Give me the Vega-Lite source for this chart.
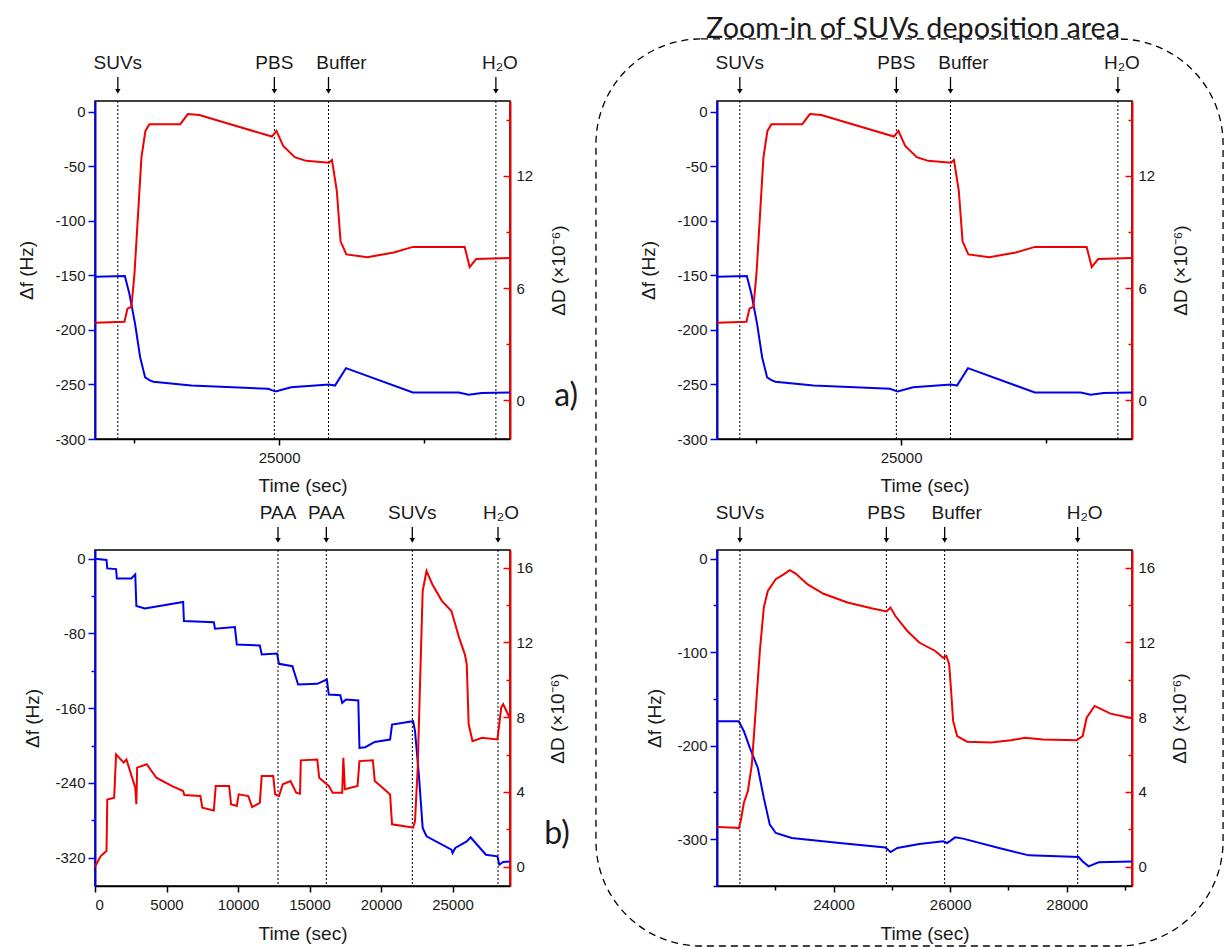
{
  "$schema": "https://vega.github.io/schema/vega-lite/v6.json",
  "padding": {"left": 16, "top": 14, "right": 0, "bottom": 0},
  "concat": [
    {"width": 1, "height": 1, "data": {"values": [{}]}, "mark": {"type": "point", "opacity": 0}, "view": {"stroke": null}},
    {
      "width": 415, "height": 338,
      "layer": [
        {"layer": [
          {"data": {"name": "top_f"}, "mark": {"type": "line", "color": "#0000f0", "strokeWidth": 2},
           "encoding": {
             "x": {"field": "t", "type": "quantitative", "scale": {"domain": [21830, 28975], "nice": false, "zero": false},
                   "axis": {"values": [22500, 25000, 27500], "labelExpr": "datum.value === 25000 ? '25000' : ''", "tickSize": {"condition": {"test": "datum.value === 25000", "value": 6}, "value": 4}, "domainColor": "black", "domainWidth": 1.5, "tickColor": "black", "tickWidth": 1.5, "labelPadding": 5, "labelFontSize": 15, "title": "Time (sec)", "titleFontSize": 19, "titleY": 46, "titleBaseline": "middle"}},
             "y": {"field": "df", "type": "quantitative", "scale": {"domain": [-300, 10], "nice": false, "zero": false},
                   "axis": {"orient": "left", "values": [-300, -275, -250, -225, -200, -175, -150, -125, -100, -75, -50, -25, 0], "labelExpr": "datum.value % 50 === 0 ? '' + datum.value : ''", "tickSize": {"condition": {"test": "datum.value % 50 === 0", "value": 7}, "value": 4}, "domainColor": "#0000f0", "domainWidth": 2, "tickColor": "#0000f0", "tickWidth": 1.5, "labelPadding": 3, "labelFontSize": 15, "title": "Δf (Hz)", "titleFontSize": 19, "titleX": -69, "titleBaseline": "middle"}}
           }},
          {"data": {"name": "ev_top"}, "mark": {"type": "rule", "strokeDash": [2, 2], "color": "black", "strokeWidth": 1}, "encoding": {"x": {"field": "t", "type": "quantitative"}}},
          {"data": {"name": "ev_top"}, "mark": {"type": "rule", "color": "black", "strokeWidth": 1.3}, "encoding": {"x": {"field": "t", "type": "quantitative"}, "y": {"datum": 32, "type": "quantitative"}, "y2": {"datum": 19.2}}},
          {"data": {"name": "ev_top"}, "mark": {"type": "point", "shape": "triangle-down", "filled": true, "color": "black", "size": 30, "opacity": 1}, "encoding": {"x": {"field": "t", "type": "quantitative"}, "y": {"datum": 18.8, "type": "quantitative"}}},
          {"data": {"name": "ev_top"}, "transform": [{"filter": "datum.lbl !== 'Buffer' && datum.lbl !== 'H₂O'"}], "mark": {"type": "text", "fontSize": 19, "baseline": "middle", "color": "#1a1a1a"}, "encoding": {"x": {"field": "t", "type": "quantitative"}, "y": {"datum": 44.9, "type": "quantitative"}, "text": {"field": "lbl"}}},
          {"data": {"name": "ev_top"}, "transform": [{"filter": "datum.lbl === 'Buffer'"}], "mark": {"type": "text", "fontSize": 19, "baseline": "middle", "dx": 13, "color": "#1a1a1a"}, "encoding": {"x": {"field": "t", "type": "quantitative"}, "y": {"datum": 44.9, "type": "quantitative"}, "text": {"field": "lbl"}}},
          {"data": {"name": "ev_top"}, "transform": [{"filter": "datum.lbl === 'H₂O'"}], "mark": {"type": "text", "fontSize": 19, "baseline": "middle", "dx": 4, "color": "#1a1a1a"}, "encoding": {"x": {"field": "t", "type": "quantitative"}, "y": {"datum": 44.9, "type": "quantitative"}, "text": {"field": "lbl"}}},
          {"data": {"values": [{}]}, "mark": {"type": "text", "fontSize": 32, "font": "Lato", "baseline": "middle", "color": "#1a1a1a"}, "encoding": {"x": {"datum": 29941, "type": "quantitative"}, "y": {"datum": -260.6, "type": "quantitative"}, "text": {"value": "a)"}}}
        ]},
        {"data": {"name": "top_D"}, "mark": {"type": "line", "color": "#f00000", "strokeWidth": 2},
         "encoding": {
           "x": {"field": "t", "type": "quantitative"},
           "y": {"field": "dD", "type": "quantitative", "scale": {"domain": [-2.07, 16.0], "nice": false, "zero": false},
                 "axis": {"orient": "right", "values": [0, 3, 6, 9, 12, 15], "labelExpr": "datum.value % 6 === 0 ? '' + datum.value : ''", "tickSize": {"condition": {"test": "datum.value % 6 === 0", "value": -7}, "value": -4}, "domainColor": "#f00000", "domainWidth": 2, "tickColor": "#f00000", "tickWidth": 1.5, "labelPadding": 13, "labelFontSize": 15, "title": "ΔD (×10⁻⁶)", "titleFontSize": 19, "titleAngle": 270, "titleX": 48, "titleBaseline": "middle"}}
         }}
      ],
      "resolve": {"scale": {"y": "independent"}}
    },
    {"width": 207, "height": 1, "data": {"values": [{}]}, "mark": {"type": "point", "opacity": 0}, "view": {"stroke": null}},
    {
      "width": 415, "height": 338,
      "layer": [
        {"layer": [
          {"data": {"name": "top_f"}, "mark": {"type": "line", "color": "#0000f0", "strokeWidth": 2},
           "encoding": {
             "x": {"field": "t", "type": "quantitative", "scale": {"domain": [21830, 28975], "nice": false, "zero": false},
                   "axis": {"values": [22500, 25000, 27500], "labelExpr": "datum.value === 25000 ? '25000' : ''", "tickSize": {"condition": {"test": "datum.value === 25000", "value": 6}, "value": 4}, "domainColor": "black", "domainWidth": 1.5, "tickColor": "black", "tickWidth": 1.5, "labelPadding": 5, "labelFontSize": 15, "title": "Time (sec)", "titleFontSize": 19, "titleY": 46, "titleBaseline": "middle"}},
             "y": {"field": "df", "type": "quantitative", "scale": {"domain": [-300, 10], "nice": false, "zero": false},
                   "axis": {"orient": "left", "values": [-300, -275, -250, -225, -200, -175, -150, -125, -100, -75, -50, -25, 0], "labelExpr": "datum.value % 50 === 0 ? '' + datum.value : ''", "tickSize": {"condition": {"test": "datum.value % 50 === 0", "value": 7}, "value": 4}, "domainColor": "#0000f0", "domainWidth": 2, "tickColor": "#0000f0", "tickWidth": 1.5, "labelPadding": 3, "labelFontSize": 15, "title": "Δf (Hz)", "titleFontSize": 19, "titleX": -69, "titleBaseline": "middle"}}
           }},
          {"data": {"name": "ev_top"}, "mark": {"type": "rule", "strokeDash": [2, 2], "color": "black", "strokeWidth": 1}, "encoding": {"x": {"field": "t", "type": "quantitative"}}},
          {"data": {"name": "ev_top"}, "mark": {"type": "rule", "color": "black", "strokeWidth": 1.3}, "encoding": {"x": {"field": "t", "type": "quantitative"}, "y": {"datum": 32, "type": "quantitative"}, "y2": {"datum": 19.2}}},
          {"data": {"name": "ev_top"}, "mark": {"type": "point", "shape": "triangle-down", "filled": true, "color": "black", "size": 30, "opacity": 1}, "encoding": {"x": {"field": "t", "type": "quantitative"}, "y": {"datum": 18.8, "type": "quantitative"}}},
          {"data": {"name": "ev_top"}, "transform": [{"filter": "datum.lbl !== 'Buffer' && datum.lbl !== 'H₂O'"}], "mark": {"type": "text", "fontSize": 19, "baseline": "middle", "color": "#1a1a1a"}, "encoding": {"x": {"field": "t", "type": "quantitative"}, "y": {"datum": 44.9, "type": "quantitative"}, "text": {"field": "lbl"}}},
          {"data": {"name": "ev_top"}, "transform": [{"filter": "datum.lbl === 'Buffer'"}], "mark": {"type": "text", "fontSize": 19, "baseline": "middle", "dx": 13, "color": "#1a1a1a"}, "encoding": {"x": {"field": "t", "type": "quantitative"}, "y": {"datum": 44.9, "type": "quantitative"}, "text": {"field": "lbl"}}},
          {"data": {"name": "ev_top"}, "transform": [{"filter": "datum.lbl === 'H₂O'"}], "mark": {"type": "text", "fontSize": 19, "baseline": "middle", "dx": 4, "color": "#1a1a1a"}, "encoding": {"x": {"field": "t", "type": "quantitative"}, "y": {"datum": 44.9, "type": "quantitative"}, "text": {"field": "lbl"}}},
          {"data": {"values": [{}]}, "mark": {"type": "text", "fontSize": 28.7, "font": "Lato", "baseline": "alphabetic", "color": "#1a1a1a"}, "encoding": {"x": {"datum": 25205, "type": "quantitative"}, "y": {"datum": 67.8, "type": "quantitative"}, "text": {"value": "Zoom-in of SUVs deposition area"}}},
          {"data": {"values": [{}]}, "mark": {"type": "rect", "fillOpacity": 0, "stroke": "black", "strokeWidth": 1.3, "strokeDash": [7, 5], "cornerRadius": 105}, "encoding": {"x": {"datum": 19746, "type": "quantitative"}, "x2": {"datum": 30543}, "y": {"datum": 66.9, "type": "quantitative"}, "y2": {"datum": -765}}}
        ]},
        {"data": {"name": "top_D"}, "mark": {"type": "line", "color": "#f00000", "strokeWidth": 2},
         "encoding": {
           "x": {"field": "t", "type": "quantitative"},
           "y": {"field": "dD", "type": "quantitative", "scale": {"domain": [-2.07, 16.0], "nice": false, "zero": false},
                 "axis": {"orient": "right", "values": [0, 3, 6, 9, 12, 15], "labelExpr": "datum.value % 6 === 0 ? '' + datum.value : ''", "tickSize": {"condition": {"test": "datum.value % 6 === 0", "value": -7}, "value": -4}, "domainColor": "#f00000", "domainWidth": 2, "tickColor": "#f00000", "tickWidth": 1.5, "labelPadding": 13, "labelFontSize": 15, "title": "ΔD (×10⁻⁶)", "titleFontSize": 19, "titleAngle": 270, "titleX": 48, "titleBaseline": "middle"}}
         }}
      ],
      "resolve": {"scale": {"y": "independent"}}
    },
    {"width": 10, "height": 1, "data": {"values": [{}]}, "mark": {"type": "point", "opacity": 0}, "view": {"stroke": null}},
    {
      "width": 415, "height": 336,
      "layer": [
        {"layer": [
          {"data": {"name": "bl_f"}, "mark": {"type": "line", "color": "#0000f0", "strokeWidth": 2},
           "encoding": {
             "x": {"field": "t", "type": "quantitative", "scale": {"domain": [0, 29020], "nice": false, "zero": false},
                   "axis": {"values": [0, 2500, 5000, 7500, 10000, 12500, 15000, 17500, 20000, 22500, 25000, 27500], "labelExpr": "datum.value % 5000 === 0 ? '' + datum.value : ''", "tickSize": {"condition": {"test": "datum.value % 5000 === 0", "value": 6}, "value": 4}, "domainColor": "black", "domainWidth": 1.5, "tickColor": "black", "tickWidth": 1.5, "labelPadding": 5, "labelFontSize": 15, "title": "Time (sec)", "titleFontSize": 19, "titleY": 47, "titleBaseline": "middle"}},
             "y": {"field": "df", "type": "quantitative", "scale": {"domain": [-350.3, 9.3], "nice": false, "zero": false},
                   "axis": {"orient": "left", "values": [-320, -280, -240, -200, -160, -120, -80, -40, 0], "labelExpr": "datum.value % 80 === 0 ? '' + datum.value : ''", "tickSize": {"condition": {"test": "datum.value % 80 === 0", "value": 7}, "value": 4}, "domainColor": "#0000f0", "domainWidth": 2, "tickColor": "#0000f0", "tickWidth": 1.5, "labelPadding": 3, "labelFontSize": 15, "title": "Δf (Hz)", "titleFontSize": 19, "titleX": -63, "titleBaseline": "middle"}}
           }},
          {"data": {"name": "ev_bl"}, "mark": {"type": "rule", "strokeDash": [2, 2], "color": "black", "strokeWidth": 1}, "encoding": {"x": {"field": "t", "type": "quantitative"}}},
          {"data": {"name": "ev_bl"}, "mark": {"type": "rule", "color": "black", "strokeWidth": 1.3}, "encoding": {"x": {"field": "t", "type": "quantitative"}, "y": {"datum": 33.9, "type": "quantitative"}, "y2": {"datum": 19.9}}},
          {"data": {"name": "ev_bl"}, "mark": {"type": "point", "shape": "triangle-down", "filled": true, "color": "black", "size": 30, "opacity": 1}, "encoding": {"x": {"field": "t", "type": "quantitative"}, "y": {"datum": 19.6, "type": "quantitative"}}},
          {"data": {"name": "ev_bl"}, "transform": [{"filter": "datum.lbl !== 'H₂O'"}], "mark": {"type": "text", "fontSize": 19, "baseline": "middle", "color": "#1a1a1a"}, "encoding": {"x": {"field": "t", "type": "quantitative"}, "y": {"datum": 48.9, "type": "quantitative"}, "text": {"field": "lbl"}}},
          {"data": {"name": "ev_bl"}, "transform": [{"filter": "datum.lbl === 'H₂O'"}], "mark": {"type": "text", "fontSize": 19, "baseline": "middle", "dx": 3, "color": "#1a1a1a"}, "encoding": {"x": {"field": "t", "type": "quantitative"}, "y": {"datum": 48.9, "type": "quantitative"}, "text": {"field": "lbl"}}},
          {"data": {"values": [{}]}, "mark": {"type": "text", "fontSize": 32, "font": "Lato", "baseline": "middle", "color": "#1a1a1a"}, "encoding": {"x": {"datum": 32307, "type": "quantitative"}, "y": {"datum": -294.8, "type": "quantitative"}, "text": {"value": "b)"}}}
        ]},
        {"data": {"name": "bl_D"}, "mark": {"type": "line", "color": "#f00000", "strokeWidth": 2},
         "encoding": {
           "x": {"field": "t", "type": "quantitative"},
           "y": {"field": "dD", "type": "quantitative", "scale": {"domain": [-1.03, 16.94], "nice": false, "zero": false},
                 "axis": {"orient": "right", "values": [0, 2, 4, 6, 8, 10, 12, 14, 16], "labelExpr": "datum.value % 4 === 0 ? '' + datum.value : ''", "tickSize": {"condition": {"test": "datum.value % 4 === 0", "value": -7}, "value": -4}, "domainColor": "#f00000", "domainWidth": 2, "tickColor": "#f00000", "tickWidth": 1.5, "labelPadding": 13, "labelFontSize": 15, "title": "ΔD (×10⁻⁶)", "titleFontSize": 19, "titleAngle": 270, "titleX": 47, "titleBaseline": "middle"}}
         }}
      ],
      "resolve": {"scale": {"y": "independent"}}
    },
    {"width": 198, "height": 1, "data": {"values": [{}]}, "mark": {"type": "point", "opacity": 0}, "view": {"stroke": null}},
    {
      "width": 415, "height": 336,
      "layer": [
        {"layer": [
          {"data": {"name": "br_f"}, "mark": {"type": "line", "color": "#0000f0", "strokeWidth": 2},
           "encoding": {
             "x": {"field": "t", "type": "quantitative", "scale": {"domain": [22000, 29120], "nice": false, "zero": false},
                   "axis": {"values": [23000, 24000, 25000, 26000, 27000, 28000, 29000], "labelExpr": "datum.value % 2000 === 0 ? '' + datum.value : ''", "tickSize": {"condition": {"test": "datum.value % 2000 === 0", "value": 6}, "value": 4}, "domainColor": "black", "domainWidth": 1.5, "tickColor": "black", "tickWidth": 1.5, "labelPadding": 5, "labelFontSize": 15, "title": "Time (sec)", "titleFontSize": 19, "titleY": 47, "titleBaseline": "middle"}},
             "y": {"field": "df", "type": "quantitative", "scale": {"domain": [-350.3, 9.3], "nice": false, "zero": false},
                   "axis": {"orient": "left", "values": [-350, -300, -250, -200, -150, -100, -50, 0], "labelExpr": "datum.value % 100 === 0 ? '' + datum.value : ''", "tickSize": {"condition": {"test": "datum.value % 100 === 0", "value": 7}, "value": 4}, "domainColor": "#0000f0", "domainWidth": 2, "tickColor": "#0000f0", "tickWidth": 1.5, "labelPadding": 3, "labelFontSize": 15, "title": "Δf (Hz)", "titleFontSize": 19, "titleX": -63, "titleBaseline": "middle"}}
           }},
          {"data": {"name": "ev_br"}, "mark": {"type": "rule", "strokeDash": [2, 2], "color": "black", "strokeWidth": 1}, "encoding": {"x": {"field": "t", "type": "quantitative"}}},
          {"data": {"name": "ev_br"}, "mark": {"type": "rule", "color": "black", "strokeWidth": 1.3}, "encoding": {"x": {"field": "t", "type": "quantitative"}, "y": {"datum": 33.9, "type": "quantitative"}, "y2": {"datum": 19.9}}},
          {"data": {"name": "ev_br"}, "mark": {"type": "point", "shape": "triangle-down", "filled": true, "color": "black", "size": 30, "opacity": 1}, "encoding": {"x": {"field": "t", "type": "quantitative"}, "y": {"datum": 19.6, "type": "quantitative"}}},
          {"data": {"name": "ev_br"}, "transform": [{"filter": "datum.lbl !== 'Buffer' && datum.lbl !== 'H₂O'"}], "mark": {"type": "text", "fontSize": 19, "baseline": "middle", "color": "#1a1a1a"}, "encoding": {"x": {"field": "t", "type": "quantitative"}, "y": {"datum": 48.9, "type": "quantitative"}, "text": {"field": "lbl"}}},
          {"data": {"name": "ev_br"}, "transform": [{"filter": "datum.lbl === 'Buffer'"}], "mark": {"type": "text", "fontSize": 19, "baseline": "middle", "dx": 12, "color": "#1a1a1a"}, "encoding": {"x": {"field": "t", "type": "quantitative"}, "y": {"datum": 48.9, "type": "quantitative"}, "text": {"field": "lbl"}}},
          {"data": {"name": "ev_br"}, "transform": [{"filter": "datum.lbl === 'H₂O'"}], "mark": {"type": "text", "fontSize": 19, "baseline": "middle", "dx": 7, "color": "#1a1a1a"}, "encoding": {"x": {"field": "t", "type": "quantitative"}, "y": {"datum": 48.9, "type": "quantitative"}, "text": {"field": "lbl"}}}
        ]},
        {"data": {"name": "br_D"}, "mark": {"type": "line", "color": "#f00000", "strokeWidth": 2},
         "encoding": {
           "x": {"field": "t", "type": "quantitative"},
           "y": {"field": "dD", "type": "quantitative", "scale": {"domain": [-1.03, 16.94], "nice": false, "zero": false},
                 "axis": {"orient": "right", "values": [0, 2, 4, 6, 8, 10, 12, 14, 16], "labelExpr": "datum.value % 4 === 0 ? '' + datum.value : ''", "tickSize": {"condition": {"test": "datum.value % 4 === 0", "value": -7}, "value": -4}, "domainColor": "#f00000", "domainWidth": 2, "tickColor": "#f00000", "tickWidth": 1.5, "labelPadding": 13, "labelFontSize": 15, "title": "ΔD (×10⁻⁶)", "titleFontSize": 19, "titleAngle": 270, "titleX": 47, "titleBaseline": "middle"}}
         }}
      ],
      "resolve": {"scale": {"y": "independent"}}
    }
  ],
  "columns": 4,
  "align": "none",
  "bounds": "flush",
  "spacing": {"row": 111, "column": 0},
  "datasets": {
    "top_f": [{"t":21830,"df":-151.2},{"t":22344,"df":-150.5},{"t":22423,"df":-167},{"t":22521,"df":-194.6},{"t":22607,"df":-225},{"t":22693,"df":-243.5},{"t":22767,"df":-246},{"t":22835,"df":-247.5},{"t":23488,"df":-251},{"t":24811,"df":-254},{"t":24940,"df":-256.5},{"t":25206,"df":-252.5},{"t":25859,"df":-250},{"t":25962,"df":-251},{"t":26151,"df":-235},{"t":27302,"df":-257.3},{"t":28092,"df":-257.3},{"t":28264,"df":-259.5},{"t":28487,"df":-257.9},{"t":28975,"df":-257.3}],
    "top_D": [{"t":21830,"dD":4.15},{"t":22337,"dD":4.2},{"t":22389,"dD":4.9},{"t":22457,"dD":5.0},{"t":22509,"dD":6.74},{"t":22578,"dD":10.3},{"t":22629,"dD":12.97},{"t":22698,"dD":14.4},{"t":22767,"dD":14.76},{"t":23299,"dD":14.76},{"t":23428,"dD":15.3},{"t":23626,"dD":15.25},{"t":24875,"dD":14.1},{"t":24954,"dD":14.4},{"t":25070,"dD":13.6},{"t":25270,"dD":13.0},{"t":25464,"dD":12.8},{"t":25859,"dD":12.7},{"t":25910,"dD":12.85},{"t":25993,"dD":11.2},{"t":26058,"dD":8.5},{"t":26157,"dD":7.8},{"t":26519,"dD":7.65},{"t":26974,"dD":7.9},{"t":27302,"dD":8.2},{"t":28195,"dD":8.2},{"t":28281,"dD":7.12},{"t":28393,"dD":7.55},{"t":28975,"dD":7.6}],
    "bl_f": [{"t":0,"df":0},{"t":804,"df":-1.4},{"t":858,"df":-10.4},{"t":1474,"df":-11.1},{"t":1528,"df":-21.1},{"t":2546,"df":-21.1},{"t":2814,"df":-16.8},{"t":2894,"df":-50.7},{"t":3484,"df":-53.2},{"t":6164,"df":-46.4},{"t":6218,"df":-66.8},{"t":8308,"df":-67.9},{"t":8388,"df":-75},{"t":9782,"df":-73.2},{"t":9916,"df":-91.8},{"t":11524,"df":-92.9},{"t":11658,"df":-102.5},{"t":12730,"df":-101.4},{"t":12864,"df":-112.5},{"t":13802,"df":-115},{"t":14204,"df":-134.6},{"t":15544,"df":-133.9},{"t":16214,"df":-129.3},{"t":16348,"df":-145.4},{"t":17152,"df":-146.1},{"t":17286,"df":-154.3},{"t":17554,"df":-150.7},{"t":18412,"df":-151.8},{"t":18492,"df":-202.5},{"t":18894,"df":-201.8},{"t":19564,"df":-196.1},{"t":20636,"df":-193.6},{"t":20770,"df":-177.5},{"t":22244,"df":-173.9},{"t":22378,"df":-184.6},{"t":22646,"df":-231.1},{"t":22914,"df":-288.2},{"t":23182,"df":-297.1},{"t":24924,"df":-311.4},{"t":25004,"df":-315},{"t":25192,"df":-309.6},{"t":25996,"df":-302.5},{"t":26264,"df":-298.2},{"t":27336,"df":-316.8},{"t":28140,"df":-318.6},{"t":28274,"df":-327.5},{"t":28542,"df":-324.6},{"t":29000,"df":-324}],
    "bl_D": [{"t":0,"dD":0},{"t":402,"dD":0.57},{"t":804,"dD":0.84},{"t":858,"dD":3.6},{"t":1340,"dD":3.69},{"t":1474,"dD":6.01},{"t":2010,"dD":5.57},{"t":2198,"dD":5.74},{"t":2814,"dD":4.23},{"t":2894,"dD":3.34},{"t":2948,"dD":5.3},{"t":3618,"dD":5.48},{"t":4288,"dD":4.76},{"t":5360,"dD":4.32},{"t":6164,"dD":4.05},{"t":6244,"dD":3.84},{"t":7370,"dD":3.78},{"t":7504,"dD":3.16},{"t":8308,"dD":3.01},{"t":8442,"dD":4.32},{"t":9380,"dD":4.32},{"t":9514,"dD":3.34},{"t":9916,"dD":3.25},{"t":10050,"dD":3.87},{"t":10720,"dD":3.78},{"t":10988,"dD":3.19},{"t":11524,"dD":3.42},{"t":11658,"dD":4.85},{"t":12462,"dD":4.85},{"t":12596,"dD":3.87},{"t":12864,"dD":3.78},{"t":13132,"dD":4.41},{"t":13668,"dD":4.58},{"t":14070,"dD":3.96},{"t":14338,"dD":3.91},{"t":14392,"dD":5.69},{"t":15544,"dD":5.73},{"t":15678,"dD":4.76},{"t":16348,"dD":4.32},{"t":16616,"dD":3.96},{"t":17286,"dD":3.96},{"t":17366,"dD":5.83},{"t":17474,"dD":4.14},{"t":18358,"dD":4.32},{"t":18492,"dD":5.65},{"t":19430,"dD":5.69},{"t":19564,"dD":4.58},{"t":20368,"dD":4.05},{"t":20636,"dD":3.87},{"t":20770,"dD":2.27},{"t":21976,"dD":2.12},{"t":22244,"dD":2.09},{"t":22378,"dD":2.44},{"t":22566,"dD":5.3},{"t":22780,"dD":11.18},{"t":22914,"dD":14.75},{"t":23182,"dD":15.82},{"t":23584,"dD":15.11},{"t":24254,"dD":14.22},{"t":24924,"dD":13.68},{"t":25460,"dD":12.25},{"t":25862,"dD":11.36},{"t":25996,"dD":10.83},{"t":26130,"dD":7.62},{"t":26398,"dD":6.72},{"t":27068,"dD":6.9},{"t":28140,"dD":6.81},{"t":28408,"dD":8.51},{"t":28542,"dD":8.69},{"t":29000,"dD":7.97}],
    "br_f": [{"t":22000,"df":-173.9},{"t":22373,"df":-173.9},{"t":22461,"df":-184.6},{"t":22564,"df":-202.5},{"t":22701,"df":-224},{"t":22803,"df":-256},{"t":22906,"df":-284.6},{"t":23008,"df":-293.6},{"t":23282,"df":-299},{"t":24103,"df":-304.3},{"t":24889,"df":-309},{"t":24978,"df":-314},{"t":25094,"df":-309.6},{"t":25470,"df":-305.4},{"t":25880,"df":-302.5},{"t":25949,"df":-304.3},{"t":26086,"df":-298.2},{"t":26222,"df":-299.6},{"t":26838,"df":-309.6},{"t":27351,"df":-317.5},{"t":28205,"df":-319.3},{"t":28274,"df":-324},{"t":28376,"df":-329.3},{"t":28547,"df":-325},{"t":29120,"df":-324}],
    "br_D": [{"t":22000,"dD":2.12},{"t":22325,"dD":2.09},{"t":22373,"dD":2.05},{"t":22407,"dD":2.44},{"t":22461,"dD":3.42},{"t":22530,"dD":4.05},{"t":22598,"dD":5.48},{"t":22667,"dD":8.5},{"t":22735,"dD":11.54},{"t":22803,"dD":13.86},{"t":22872,"dD":14.75},{"t":23008,"dD":15.38},{"t":23145,"dD":15.64},{"t":23248,"dD":15.86},{"t":23350,"dD":15.68},{"t":23555,"dD":15.1},{"t":23829,"dD":14.6},{"t":24239,"dD":14.13},{"t":24650,"dD":13.82},{"t":24909,"dD":13.65},{"t":24978,"dD":13.86},{"t":25060,"dD":13.41},{"t":25265,"dD":12.61},{"t":25470,"dD":11.99},{"t":25744,"dD":11.54},{"t":25880,"dD":11.18},{"t":25935,"dD":11.27},{"t":25983,"dD":10.83},{"t":26017,"dD":9.4},{"t":26051,"dD":7.8},{"t":26120,"dD":6.99},{"t":26291,"dD":6.69},{"t":26701,"dD":6.64},{"t":27043,"dD":6.76},{"t":27282,"dD":6.9},{"t":27590,"dD":6.81},{"t":28171,"dD":6.76},{"t":28274,"dD":6.99},{"t":28342,"dD":7.97},{"t":28479,"dD":8.6},{"t":28547,"dD":8.5},{"t":28752,"dD":8.19},{"t":29120,"dD":7.94}],
    "ev_top": [{"t":22223,"lbl":"SUVs"},{"t":24918,"lbl":"PBS"},{"t":25850,"lbl":"Buffer"},{"t":28732,"lbl":"H₂O"}],
    "ev_bl": [{"t":12797,"lbl":"PAA"},{"t":16175,"lbl":"PAA"},{"t":22189,"lbl":"SUVs"},{"t":28182,"lbl":"H₂O"}],
    "ev_br": [{"t":22393,"lbl":"SUVs"},{"t":24906,"lbl":"PBS"},{"t":25906,"lbl":"Buffer"},{"t":28188,"lbl":"H₂O"}]
  },
  "config": {
    "font": "Liberation Sans",
    "view": {"stroke": "black", "strokeWidth": 1.5},
    "axis": {"grid": false, "labelFontSize": 15, "labelColor": "#1a1a1a", "titleFontWeight": "normal", "titleColor": "#1a1a1a", "labelFont": "Liberation Sans", "titleFont": "Liberation Sans", "zindex": 1},
    "text": {"font": "Liberation Sans"}
  }
}
